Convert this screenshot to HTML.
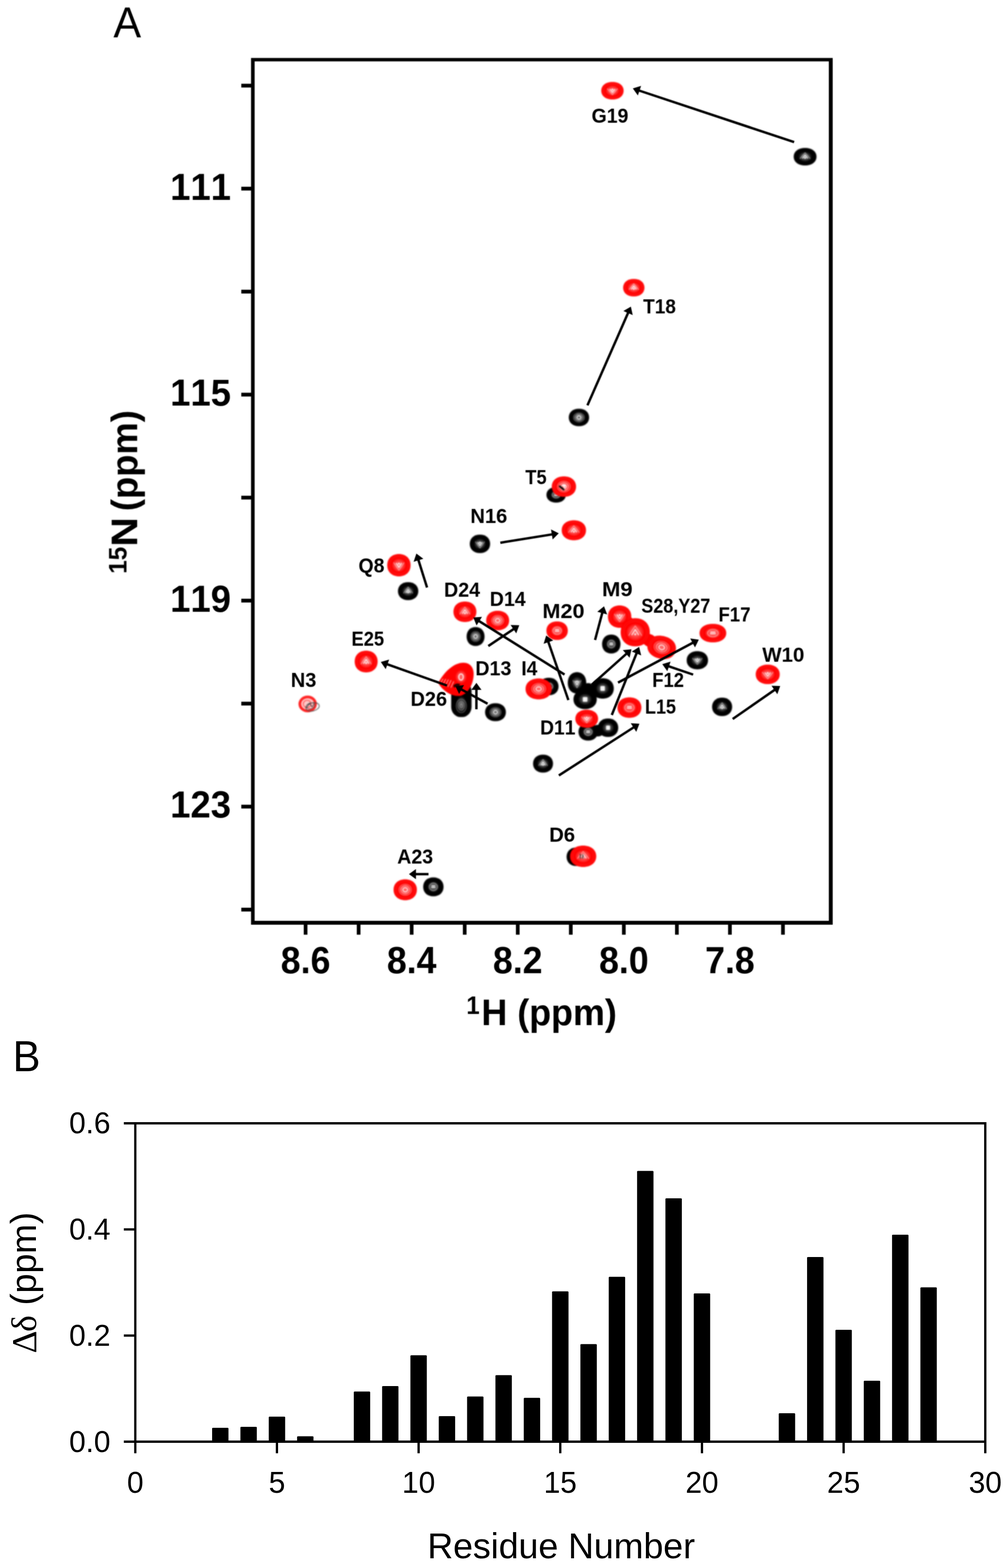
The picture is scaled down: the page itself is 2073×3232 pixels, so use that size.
<!DOCTYPE html>
<html lang="en"><head><meta charset="utf-8"><title>Figure</title>
<style>
html,body{margin:0;padding:0;background:#fff}
body{width:2073px;height:3232px;overflow:hidden}
svg{display:block}
text{font-family:"Liberation Sans",sans-serif;fill:#000;font-kerning:none}
text[font-weight="400"]{font-weight:400}
.pk{filter:blur(0.8px)}
</style></head>
<body>
<svg width="2073" height="3232" viewBox="0 0 2073 3232">
<defs>
<filter id="soft" x="0" y="0" width="2073" height="2160" filterUnits="userSpaceOnUse" color-interpolation-filters="sRGB"><feGaussianBlur stdDeviation="0.9" result="b"/><feComposite in="SourceGraphic" in2="b" operator="arithmetic" k1="0" k2="0.45" k3="0.55" k4="0"/></filter>
<radialGradient id="gr"><stop offset="0" stop-color="#fff" stop-opacity="0.42"/><stop offset="0.45" stop-color="#fff" stop-opacity="0.3"/><stop offset="0.8" stop-color="#fff" stop-opacity="0.14"/><stop offset="1" stop-color="#fff" stop-opacity="0"/></radialGradient>
<radialGradient id="gk"><stop offset="0" stop-color="#fff" stop-opacity="0.5"/><stop offset="0.45" stop-color="#fff" stop-opacity="0.3"/><stop offset="0.8" stop-color="#fff" stop-opacity="0.12"/><stop offset="1" stop-color="#fff" stop-opacity="0"/></radialGradient>
</defs>
<rect width="2073" height="3232" fill="#fff"/>
<g class="pa" filter="url(#soft)">
<g stroke="#000" stroke-width="7.4" fill="none" stroke-linecap="butt">
<path d="M517.3,119.6 H1715.9 V1906 H517.3 Z M524.7,126.6 V1898 H1707.9 V126.6 Z" fill="#000" fill-rule="evenodd" stroke="none"/>
<line x1="497.2" y1="176.5" x2="521.0" y2="176.5" stroke-width="7.8"/>
<line x1="497.2" y1="388.8" x2="521.0" y2="388.8" stroke-width="7.8"/>
<line x1="497.2" y1="601.1" x2="521.0" y2="601.1" stroke-width="7.8"/>
<line x1="497.2" y1="813.4" x2="521.0" y2="813.4" stroke-width="7.8"/>
<line x1="497.2" y1="1025.7" x2="521.0" y2="1025.7" stroke-width="7.8"/>
<line x1="497.2" y1="1238.0" x2="521.0" y2="1238.0" stroke-width="7.8"/>
<line x1="497.2" y1="1450.3" x2="521.0" y2="1450.3" stroke-width="7.8"/>
<line x1="497.2" y1="1662.6" x2="521.0" y2="1662.6" stroke-width="7.8"/>
<line x1="497.2" y1="1874.9" x2="521.0" y2="1874.9" stroke-width="7.8"/>
<line x1="629.7" y1="1902.0" x2="629.7" y2="1926.6" stroke-width="7.6"/>
<line x1="739.0" y1="1902.0" x2="739.0" y2="1926.6" stroke-width="7.6"/>
<line x1="848.3" y1="1902.0" x2="848.3" y2="1926.6" stroke-width="7.6"/>
<line x1="957.6" y1="1902.0" x2="957.6" y2="1926.6" stroke-width="7.6"/>
<line x1="1066.9" y1="1902.0" x2="1066.9" y2="1926.6" stroke-width="7.6"/>
<line x1="1176.2" y1="1902.0" x2="1176.2" y2="1926.6" stroke-width="7.6"/>
<line x1="1285.5" y1="1902.0" x2="1285.5" y2="1926.6" stroke-width="7.6"/>
<line x1="1394.8" y1="1902.0" x2="1394.8" y2="1926.6" stroke-width="7.6"/>
<line x1="1504.1" y1="1902.0" x2="1504.1" y2="1926.6" stroke-width="7.6"/>
<line x1="1613.4" y1="1902.0" x2="1613.4" y2="1926.6" stroke-width="7.6"/>
</g>
<g class="pk">
<ellipse cx="1212" cy="1422" rx="14" ry="14" fill="#000"/>
<ellipse cx="1232" cy="1506" rx="13" ry="12" fill="#000"/>
<g>
<path d="M1682.5,323.0 C1682.5,333.8 1673.1,341.0 1659.0,341.0 C1644.9,341.0 1635.5,333.8 1635.5,323.0 C1635.5,312.2 1644.9,305.0 1659.0,305.0 C1673.1,305.0 1682.5,312.2 1682.5,323.0Z" fill="#000"/>
<ellipse cx="1659" cy="323" rx="14.1" ry="10.8" fill="url(#gk)"/>
<path d="M1653.4,326.6 L1659.0,319.4 L1664.6,326.6" fill="none" stroke="#fff" stroke-width="2" opacity="0.95" stroke-linejoin="round"/>
<path d="M1648.3,327.3 L1659.0,314.7 L1669.7,327.3" fill="none" stroke="#fff" stroke-width="1.4" opacity="0.6" stroke-linejoin="round"/>
<circle cx="1659.0" cy="325.5" r="2" fill="#fff" opacity="0.95"/>
</g>
<g>
<path d="M1214.0,860.5 C1214.0,871.3 1205.6,878.5 1193.0,878.5 C1180.4,878.5 1172.0,871.3 1172.0,860.5 C1172.0,849.7 1180.4,842.5 1193.0,842.5 C1205.6,842.5 1214.0,849.7 1214.0,860.5Z" fill="#000"/>
<ellipse cx="1193" cy="860.5" rx="12.6" ry="10.8" fill="url(#gk)"/>
<ellipse cx="1193.0" cy="860.5" rx="4.2" ry="3.6" fill="none" stroke="#fff" stroke-width="2" opacity="0.95"/>
<ellipse cx="1193.0" cy="860.5" rx="8.0" ry="6.8" fill="none" stroke="#fff" stroke-width="1.4" opacity="0.6"/>
<ellipse cx="1193.0" cy="860.5" rx="11.3" ry="9.7" fill="none" stroke="#fff" stroke-width="1.2" opacity="0.4"/>
</g>
<g>
<path d="M1166.0,1020.0 C1166.0,1029.6 1158.0,1036.0 1146.0,1036.0 C1134.0,1036.0 1126.0,1029.6 1126.0,1020.0 C1126.0,1010.4 1134.0,1004.0 1146.0,1004.0 C1158.0,1004.0 1166.0,1010.4 1166.0,1020.0Z" fill="#000"/>
<ellipse cx="1146" cy="1020" rx="12.0" ry="9.6" fill="url(#gk)"/>
<path d="M1142.0,1017.8 h8.0 M1141.6,1021.2 h8.8" fill="none" stroke="#fff" stroke-width="2" opacity="0.95"/>
<ellipse cx="1146.0" cy="1020.0" rx="8.0" ry="6.4" fill="none" stroke="#fff" stroke-width="1.4" opacity="0.6"/>
</g>
<g>
<path d="M1010.0,1121.0 C1010.0,1132.4 1001.6,1140.0 989.0,1140.0 C976.4,1140.0 968.0,1132.4 968.0,1121.0 C968.0,1109.6 976.4,1102.0 989.0,1102.0 C1001.6,1102.0 1010.0,1109.6 1010.0,1121.0Z" fill="#000"/>
<ellipse cx="989" cy="1121" rx="12.6" ry="11.4" fill="url(#gk)"/>
<path d="M984.0,1117.2 L989.0,1124.8 L994.0,1117.2" fill="none" stroke="#fff" stroke-width="2" opacity="0.95" stroke-linejoin="round"/>
<path d="M979.4,1116.4 L989.0,1129.7 L998.6,1116.4" fill="none" stroke="#fff" stroke-width="1.4" opacity="0.6" stroke-linejoin="round"/>
<circle cx="989.0" cy="1118.3" r="2" fill="#fff" opacity="0.95"/>
</g>
<g>
<path d="M862.0,1218.5 C862.0,1229.6 853.6,1237.0 841.0,1237.0 C828.4,1237.0 820.0,1229.6 820.0,1218.5 C820.0,1207.4 828.4,1200.0 841.0,1200.0 C853.6,1200.0 862.0,1207.4 862.0,1218.5Z" fill="#000"/>
<ellipse cx="841" cy="1218.5" rx="12.6" ry="11.1" fill="url(#gk)"/>
<path d="M836.0,1222.2 L841.0,1214.8 L846.0,1222.2" fill="none" stroke="#fff" stroke-width="2" opacity="0.95" stroke-linejoin="round"/>
<path d="M831.4,1222.9 L841.0,1210.0 L850.6,1222.9" fill="none" stroke="#fff" stroke-width="1.4" opacity="0.6" stroke-linejoin="round"/>
<circle cx="841.0" cy="1221.1" r="2" fill="#fff" opacity="0.95"/>
</g>
<g>
<path d="M998.5,1312.0 C998.5,1323.7 991.1,1331.5 980.0,1331.5 C968.9,1331.5 961.5,1323.7 961.5,1312.0 C961.5,1300.3 968.9,1292.5 980.0,1292.5 C991.1,1292.5 998.5,1300.3 998.5,1312.0Z" fill="#000"/>
<ellipse cx="980" cy="1312" rx="11.1" ry="11.7" fill="url(#gk)"/>
<ellipse cx="980.0" cy="1312.0" rx="3.7" ry="3.9" fill="none" stroke="#fff" stroke-width="2" opacity="0.95"/>
<ellipse cx="980.0" cy="1312.0" rx="7.0" ry="7.4" fill="none" stroke="#fff" stroke-width="1.4" opacity="0.6"/>
<ellipse cx="980.0" cy="1312.0" rx="10.0" ry="10.5" fill="none" stroke="#fff" stroke-width="1.2" opacity="0.4"/>
</g>
<g>
<path d="M1278.6,1327.6 C1278.6,1339.3 1271.0,1347.1 1259.6,1347.1 C1248.2,1347.1 1240.6,1339.3 1240.6,1327.6 C1240.6,1315.9 1248.2,1308.1 1259.6,1308.1 C1271.0,1308.1 1278.6,1315.9 1278.6,1327.6Z" fill="#000"/>
<ellipse cx="1259.6" cy="1327.6" rx="11.4" ry="11.7" fill="url(#gk)"/>
<path d="M1255.8,1325.4 h7.6 M1255.4,1328.8 h8.4" fill="none" stroke="#fff" stroke-width="2" opacity="0.95"/>
<ellipse cx="1259.6" cy="1327.6" rx="7.6" ry="7.8" fill="none" stroke="#fff" stroke-width="1.4" opacity="0.6"/>
</g>
<g>
<path d="M1459.0,1361.0 C1459.0,1372.2 1450.2,1379.7 1437.0,1379.7 C1423.8,1379.7 1415.0,1372.2 1415.0,1361.0 C1415.0,1349.8 1423.8,1342.3 1437.0,1342.3 C1450.2,1342.3 1459.0,1349.8 1459.0,1361.0Z" fill="#000"/>
<ellipse cx="1437" cy="1361" rx="13.2" ry="11.2" fill="url(#gk)"/>
<path d="M1431.7,1357.3 L1437.0,1364.7 L1442.3,1357.3" fill="none" stroke="#fff" stroke-width="2" opacity="0.95" stroke-linejoin="round"/>
<path d="M1427.0,1356.5 L1437.0,1369.6 L1447.0,1356.5" fill="none" stroke="#fff" stroke-width="1.4" opacity="0.6" stroke-linejoin="round"/>
<circle cx="1437.0" cy="1358.4" r="2" fill="#fff" opacity="0.95"/>
</g>
<g>
<path d="M1508.7,1457.0 C1508.7,1468.4 1500.4,1476.0 1488.0,1476.0 C1475.6,1476.0 1467.3,1468.4 1467.3,1457.0 C1467.3,1445.6 1475.6,1438.0 1488.0,1438.0 C1500.4,1438.0 1508.7,1445.6 1508.7,1457.0Z" fill="#000"/>
<ellipse cx="1488" cy="1457" rx="12.4" ry="11.4" fill="url(#gk)"/>
<path d="M1483.0,1460.8 L1488.0,1453.2 L1493.0,1460.8" fill="none" stroke="#fff" stroke-width="2" opacity="0.95" stroke-linejoin="round"/>
<path d="M1478.6,1461.6 L1488.0,1448.3 L1497.4,1461.6" fill="none" stroke="#fff" stroke-width="1.4" opacity="0.6" stroke-linejoin="round"/>
<circle cx="1488.0" cy="1459.7" r="2" fill="#fff" opacity="0.95"/>
</g>
<g>
<path d="M1042.5,1468.0 C1042.5,1479.1 1033.9,1486.5 1021.0,1486.5 C1008.1,1486.5 999.5,1479.1 999.5,1468.0 C999.5,1456.9 1008.1,1449.5 1021.0,1449.5 C1033.9,1449.5 1042.5,1456.9 1042.5,1468.0Z" fill="#000"/>
<ellipse cx="1021" cy="1468" rx="12.9" ry="11.1" fill="url(#gk)"/>
<ellipse cx="1021.0" cy="1468.0" rx="4.3" ry="3.7" fill="none" stroke="#fff" stroke-width="2" opacity="0.95"/>
<ellipse cx="1021.0" cy="1468.0" rx="8.2" ry="7.0" fill="none" stroke="#fff" stroke-width="1.4" opacity="0.6"/>
<ellipse cx="1021.0" cy="1468.0" rx="11.6" ry="10.0" fill="none" stroke="#fff" stroke-width="1.2" opacity="0.4"/>
</g>
<g>
<path d="M1151.0,1415.0 C1151.0,1425.8 1143.0,1433.0 1131.0,1433.0 C1119.0,1433.0 1111.0,1425.8 1111.0,1415.0 C1111.0,1404.2 1119.0,1397.0 1131.0,1397.0 C1143.0,1397.0 1151.0,1404.2 1151.0,1415.0Z" fill="#000"/>
<ellipse cx="1131" cy="1415" rx="12.0" ry="10.8" fill="url(#gk)"/>
<path d="M1127.0,1412.8 h8.0 M1126.6,1416.2 h8.8" fill="none" stroke="#fff" stroke-width="2" opacity="0.95"/>
<ellipse cx="1131.0" cy="1415.0" rx="8.0" ry="7.2" fill="none" stroke="#fff" stroke-width="1.4" opacity="0.6"/>
</g>
<g>
<path d="M1208.0,1407.5 C1208.0,1420.7 1200.4,1429.5 1189.0,1429.5 C1177.6,1429.5 1170.0,1420.7 1170.0,1407.5 C1170.0,1394.3 1177.6,1385.5 1189.0,1385.5 C1200.4,1385.5 1208.0,1394.3 1208.0,1407.5Z" fill="#000"/>
<ellipse cx="1189" cy="1407.5" rx="11.4" ry="13.2" fill="url(#gk)"/>
<path d="M1184.4,1403.1 L1189.0,1411.9 L1193.6,1403.1" fill="none" stroke="#fff" stroke-width="2" opacity="0.95" stroke-linejoin="round"/>
<path d="M1180.3,1402.2 L1189.0,1417.6 L1197.7,1402.2" fill="none" stroke="#fff" stroke-width="1.4" opacity="0.6" stroke-linejoin="round"/>
<circle cx="1189.0" cy="1404.4" r="2" fill="#fff" opacity="0.95"/>
</g>
<g>
<path d="M1229.7,1441.6 C1229.7,1453.6 1220.1,1461.6 1205.7,1461.6 C1191.3,1461.6 1181.7,1453.6 1181.7,1441.6 C1181.7,1429.6 1191.3,1421.6 1205.7,1421.6 C1220.1,1421.6 1229.7,1429.6 1229.7,1441.6Z" fill="#000"/>
<ellipse cx="1205.7" cy="1441.6" rx="14.4" ry="12.0" fill="url(#gk)"/>
<rect x="1200.9" y="1436.8" width="9.6" height="9.6" rx="1.5" fill="#fff" opacity="0.95"/>
</g>
<g>
<path d="M1264.8,1419.0 C1264.8,1431.6 1255.6,1440.0 1241.8,1440.0 C1228.0,1440.0 1218.8,1431.6 1218.8,1419.0 C1218.8,1406.4 1228.0,1398.0 1241.8,1398.0 C1255.6,1398.0 1264.8,1406.4 1264.8,1419.0Z" fill="#000"/>
<ellipse cx="1241.8" cy="1419" rx="13.8" ry="12.6" fill="url(#gk)"/>
<rect x="1237.2" y="1414.0" width="9.2" height="10.1" rx="1.5" fill="#fff" opacity="0.95"/>
</g>
<g>
<path d="M1232.0,1508.6 C1232.0,1519.4 1224.0,1526.6 1212.0,1526.6 C1200.0,1526.6 1192.0,1519.4 1192.0,1508.6 C1192.0,1497.8 1200.0,1490.6 1212.0,1490.6 C1224.0,1490.6 1232.0,1497.8 1232.0,1508.6Z" fill="#000"/>
<ellipse cx="1212" cy="1508.6" rx="12.0" ry="10.8" fill="url(#gk)"/>
<path d="M1208.0,1506.4 h8.0 M1207.6,1509.8 h8.8" fill="none" stroke="#fff" stroke-width="2" opacity="0.95"/>
<ellipse cx="1212.0" cy="1508.6" rx="8.0" ry="7.2" fill="none" stroke="#fff" stroke-width="1.4" opacity="0.6"/>
</g>
<g>
<path d="M1274.0,1500.0 C1274.0,1511.4 1265.6,1519.0 1253.0,1519.0 C1240.4,1519.0 1232.0,1511.4 1232.0,1500.0 C1232.0,1488.6 1240.4,1481.0 1253.0,1481.0 C1265.6,1481.0 1274.0,1488.6 1274.0,1500.0Z" fill="#000"/>
<ellipse cx="1253" cy="1500" rx="12.6" ry="11.4" fill="url(#gk)"/>
<rect x="1248.8" y="1495.4" width="8.4" height="9.1" rx="1.5" fill="#fff" opacity="0.95"/>
</g>
<g>
<path d="M1139.6,1574.0 C1139.6,1585.1 1131.4,1592.5 1119.0,1592.5 C1106.6,1592.5 1098.4,1585.1 1098.4,1574.0 C1098.4,1562.9 1106.6,1555.5 1119.0,1555.5 C1131.4,1555.5 1139.6,1562.9 1139.6,1574.0Z" fill="#000"/>
<ellipse cx="1119" cy="1574" rx="12.4" ry="11.1" fill="url(#gk)"/>
<path d="M1114.1,1577.7 L1119.0,1570.3 L1123.9,1577.7" fill="none" stroke="#fff" stroke-width="2" opacity="0.95" stroke-linejoin="round"/>
<path d="M1109.6,1578.4 L1119.0,1565.5 L1128.4,1578.4" fill="none" stroke="#fff" stroke-width="1.4" opacity="0.6" stroke-linejoin="round"/>
<circle cx="1119.0" cy="1576.6" r="2" fill="#fff" opacity="0.95"/>
</g>
<g>
<path d="M1207.5,1766.0 C1207.5,1777.4 1199.5,1785.0 1187.5,1785.0 C1175.5,1785.0 1167.5,1777.4 1167.5,1766.0 C1167.5,1754.6 1175.5,1747.0 1187.5,1747.0 C1199.5,1747.0 1207.5,1754.6 1207.5,1766.0Z" fill="#000"/>
<ellipse cx="1187.5" cy="1766" rx="12.0" ry="11.4" fill="url(#gk)"/>
<ellipse cx="1187.5" cy="1766.0" rx="4.0" ry="3.8" fill="none" stroke="#fff" stroke-width="2" opacity="0.95"/>
<ellipse cx="1187.5" cy="1766.0" rx="7.6" ry="7.2" fill="none" stroke="#fff" stroke-width="1.4" opacity="0.6"/>
<ellipse cx="1187.5" cy="1766.0" rx="10.8" ry="10.3" fill="none" stroke="#fff" stroke-width="1.2" opacity="0.4"/>
</g>
<g>
<path d="M914.0,1828.0 C914.0,1839.7 905.6,1847.5 893.0,1847.5 C880.4,1847.5 872.0,1839.7 872.0,1828.0 C872.0,1816.3 880.4,1808.5 893.0,1808.5 C905.6,1808.5 914.0,1816.3 914.0,1828.0Z" fill="#000"/>
<ellipse cx="893" cy="1828" rx="12.6" ry="11.7" fill="url(#gk)"/>
<path d="M888.8,1825.8 h8.4 M888.4,1829.2 h9.2" fill="none" stroke="#fff" stroke-width="2" opacity="0.95"/>
<ellipse cx="893.0" cy="1828.0" rx="8.4" ry="7.8" fill="none" stroke="#fff" stroke-width="1.4" opacity="0.6"/>
</g>
<rect x="929.7" y="1404" width="42" height="74" rx="19" ry="21" fill="#000"/>
<ellipse cx="950.6" cy="1452" rx="11" ry="17" fill="url(#gk)"/>
<ellipse cx="950.6" cy="1455" rx="10.5" ry="14" fill="none" stroke="#aaa" stroke-width="1.1" opacity="0.7"/>
<ellipse cx="950.6" cy="1455" rx="6.8" ry="9" fill="none" stroke="#aaa" stroke-width="1.1" opacity="0.7"/>
<ellipse cx="950.6" cy="1455" rx="3.0" ry="4" fill="none" stroke="#aaa" stroke-width="1.1" opacity="0.7"/>
<path d="M903,1408 C915,1385 935,1366 955,1366 C970,1366 977,1378 976,1392 C975,1410 966,1428 950,1434 C935,1437 915,1428 903,1408 Z" fill="#f00"/>
<ellipse cx="950" cy="1395" rx="12" ry="14" fill="url(#gr)"/>
<ellipse cx="950" cy="1395.5" rx="4.6" ry="6.4" fill="none" stroke="#fff" stroke-width="2.2" opacity="0.95"/>
<path d="M907.5,1409 l5.5,-10 M912.5,1411.5 l6,-12 M917.5,1414 l6.5,-13.5 M923,1416 l6.5,-14 M929,1417.5 l6,-13" fill="none" stroke="#fff" stroke-width="1.5" opacity="0.75"/>
<path d="M934,1413 q6,-6 14,-3 l-2,5 q-7,-1 -10,3 z" fill="#000" opacity="0.85"/>
<ellipse cx="1292" cy="1285" rx="20" ry="15" fill="#f00" transform="rotate(45 1292 1285)"/>
<ellipse cx="1338" cy="1320" rx="16" ry="13" fill="#f00" transform="rotate(30 1338 1320)"/>
<g>
<path d="M1285.0,187.0 C1285.0,197.8 1275.8,205.0 1262.0,205.0 C1248.2,205.0 1239.0,197.8 1239.0,187.0 C1239.0,176.2 1248.2,169.0 1262.0,169.0 C1275.8,169.0 1285.0,176.2 1285.0,187.0Z" fill="#f00"/>
<ellipse cx="1262" cy="187" rx="14.3" ry="11.2" fill="url(#gr)"/>
<path d="M1282.2,187.0 C1282.2,196.5 1274.1,202.8 1262.0,202.8 C1249.9,202.8 1241.8,196.5 1241.8,187.0 C1241.8,177.5 1249.9,171.2 1262.0,171.2 C1274.1,171.2 1282.2,177.5 1282.2,187.0Z" fill="none" stroke="#fff" stroke-width="0.9" opacity="0.14"/>
<path d="M1279.5,187.0 C1279.5,195.2 1272.5,200.7 1262.0,200.7 C1251.5,200.7 1244.5,195.2 1244.5,187.0 C1244.5,178.8 1251.5,173.3 1262.0,173.3 C1272.5,173.3 1279.5,178.8 1279.5,187.0Z" fill="none" stroke="#fff" stroke-width="0.9" opacity="0.14"/>
<path d="M1256.5,183.4 L1262.0,190.6 L1267.5,183.4" fill="none" stroke="#fff" stroke-width="2" opacity="0.95" stroke-linejoin="round"/>
<path d="M1251.5,182.7 L1262.0,195.3 L1272.5,182.7" fill="none" stroke="#fff" stroke-width="1.4" opacity="0.6" stroke-linejoin="round"/>
<circle cx="1262.0" cy="184.5" r="2" fill="#fff" opacity="0.95"/>
</g>
<g>
<path d="M1328.0,593.0 C1328.0,603.8 1319.2,611.0 1306.0,611.0 C1292.8,611.0 1284.0,603.8 1284.0,593.0 C1284.0,582.2 1292.8,575.0 1306.0,575.0 C1319.2,575.0 1328.0,582.2 1328.0,593.0Z" fill="#f00"/>
<ellipse cx="1306" cy="593" rx="13.6" ry="11.2" fill="url(#gr)"/>
<path d="M1325.4,593.0 C1325.4,602.5 1317.6,608.8 1306.0,608.8 C1294.4,608.8 1286.6,602.5 1286.6,593.0 C1286.6,583.5 1294.4,577.2 1306.0,577.2 C1317.6,577.2 1325.4,583.5 1325.4,593.0Z" fill="none" stroke="#fff" stroke-width="0.9" opacity="0.14"/>
<path d="M1322.7,593.0 C1322.7,601.2 1316.0,606.7 1306.0,606.7 C1296.0,606.7 1289.3,601.2 1289.3,593.0 C1289.3,584.8 1296.0,579.3 1306.0,579.3 C1316.0,579.3 1322.7,584.8 1322.7,593.0Z" fill="none" stroke="#fff" stroke-width="0.9" opacity="0.14"/>
<path d="M1300.7,596.6 L1306.0,589.4 L1311.3,596.6" fill="none" stroke="#fff" stroke-width="2" opacity="0.95" stroke-linejoin="round"/>
<path d="M1296.0,597.3 L1306.0,584.7 L1316.0,597.3" fill="none" stroke="#fff" stroke-width="1.4" opacity="0.6" stroke-linejoin="round"/>
<circle cx="1306.0" cy="595.5" r="2" fill="#fff" opacity="0.95"/>
</g>
<g>
<path d="M1187.0,1003.0 C1187.0,1015.6 1177.0,1024.0 1162.0,1024.0 C1147.0,1024.0 1137.0,1015.6 1137.0,1003.0 C1137.0,990.4 1147.0,982.0 1162.0,982.0 C1177.0,982.0 1187.0,990.4 1187.0,1003.0Z" fill="#f00"/>
<ellipse cx="1162" cy="1003" rx="15.5" ry="13.0" fill="url(#gr)"/>
<path d="M1184.0,1003.0 C1184.0,1014.1 1175.2,1021.5 1162.0,1021.5 C1148.8,1021.5 1140.0,1014.1 1140.0,1003.0 C1140.0,991.9 1148.8,984.5 1162.0,984.5 C1175.2,984.5 1184.0,991.9 1184.0,1003.0Z" fill="none" stroke="#fff" stroke-width="0.9" opacity="0.14"/>
<path d="M1181.0,1003.0 C1181.0,1012.6 1173.4,1019.0 1162.0,1019.0 C1150.6,1019.0 1143.0,1012.6 1143.0,1003.0 C1143.0,993.4 1150.6,987.0 1162.0,987.0 C1173.4,987.0 1181.0,993.4 1181.0,1003.0Z" fill="none" stroke="#fff" stroke-width="0.9" opacity="0.14"/>
<ellipse cx="1162.0" cy="1003.0" rx="5.0" ry="4.2" fill="none" stroke="#fff" stroke-width="2" opacity="0.95"/>
<ellipse cx="1162.0" cy="1003.0" rx="9.5" ry="8.0" fill="none" stroke="#fff" stroke-width="1.4" opacity="0.6"/>
<ellipse cx="1162.0" cy="1003.0" rx="13.5" ry="11.3" fill="none" stroke="#fff" stroke-width="1.2" opacity="0.4"/>
</g>
<g>
<path d="M1207.5,1093.0 C1207.5,1105.3 1197.5,1113.5 1182.5,1113.5 C1167.5,1113.5 1157.5,1105.3 1157.5,1093.0 C1157.5,1080.7 1167.5,1072.5 1182.5,1072.5 C1197.5,1072.5 1207.5,1080.7 1207.5,1093.0Z" fill="#f00"/>
<ellipse cx="1182.5" cy="1093" rx="15.5" ry="12.7" fill="url(#gr)"/>
<path d="M1204.5,1093.0 C1204.5,1103.8 1195.7,1111.0 1182.5,1111.0 C1169.3,1111.0 1160.5,1103.8 1160.5,1093.0 C1160.5,1082.2 1169.3,1075.0 1182.5,1075.0 C1195.7,1075.0 1204.5,1082.2 1204.5,1093.0Z" fill="none" stroke="#fff" stroke-width="0.9" opacity="0.14"/>
<path d="M1201.5,1093.0 C1201.5,1102.3 1193.9,1108.6 1182.5,1108.6 C1171.1,1108.6 1163.5,1102.3 1163.5,1093.0 C1163.5,1083.7 1171.1,1077.4 1182.5,1077.4 C1193.9,1077.4 1201.5,1083.7 1201.5,1093.0Z" fill="none" stroke="#fff" stroke-width="0.9" opacity="0.14"/>
<path d="M1176.5,1097.1 L1182.5,1088.9 L1188.5,1097.1" fill="none" stroke="#fff" stroke-width="2" opacity="0.95" stroke-linejoin="round"/>
<path d="M1171.1,1097.9 L1182.5,1083.6 L1193.9,1097.9" fill="none" stroke="#fff" stroke-width="1.4" opacity="0.6" stroke-linejoin="round"/>
<circle cx="1182.5" cy="1095.9" r="2" fill="#fff" opacity="0.95"/>
</g>
<g>
<path d="M846.0,1165.0 C846.0,1178.8 836.4,1188.0 822.0,1188.0 C807.6,1188.0 798.0,1178.8 798.0,1165.0 C798.0,1151.2 807.6,1142.0 822.0,1142.0 C836.4,1142.0 846.0,1151.2 846.0,1165.0Z" fill="#f00"/>
<ellipse cx="822" cy="1165" rx="14.9" ry="14.3" fill="url(#gr)"/>
<path d="M843.1,1165.0 C843.1,1177.1 834.7,1185.2 822.0,1185.2 C809.3,1185.2 800.9,1177.1 800.9,1165.0 C800.9,1152.9 809.3,1144.8 822.0,1144.8 C834.7,1144.8 843.1,1152.9 843.1,1165.0Z" fill="none" stroke="#fff" stroke-width="0.9" opacity="0.14"/>
<path d="M840.2,1165.0 C840.2,1175.5 832.9,1182.5 822.0,1182.5 C811.1,1182.5 803.8,1175.5 803.8,1165.0 C803.8,1154.5 811.1,1147.5 822.0,1147.5 C832.9,1147.5 840.2,1154.5 840.2,1165.0Z" fill="none" stroke="#fff" stroke-width="0.9" opacity="0.14"/>
<path d="M816.2,1160.4 L822.0,1169.6 L827.8,1160.4" fill="none" stroke="#fff" stroke-width="2" opacity="0.95" stroke-linejoin="round"/>
<path d="M811.1,1159.5 L822.0,1175.6 L832.9,1159.5" fill="none" stroke="#fff" stroke-width="1.4" opacity="0.6" stroke-linejoin="round"/>
<circle cx="822.0" cy="1161.8" r="2" fill="#fff" opacity="0.95"/>
</g>
<g>
<path d="M981.6,1261.0 C981.6,1273.6 972.2,1282.0 958.0,1282.0 C943.8,1282.0 934.4,1273.6 934.4,1261.0 C934.4,1248.4 943.8,1240.0 958.0,1240.0 C972.2,1240.0 981.6,1248.4 981.6,1261.0Z" fill="#f00"/>
<ellipse cx="958" cy="1261" rx="14.6" ry="13.0" fill="url(#gr)"/>
<path d="M978.8,1261.0 C978.8,1272.1 970.5,1279.5 958.0,1279.5 C945.5,1279.5 937.2,1272.1 937.2,1261.0 C937.2,1249.9 945.5,1242.5 958.0,1242.5 C970.5,1242.5 978.8,1249.9 978.8,1261.0Z" fill="none" stroke="#fff" stroke-width="0.9" opacity="0.14"/>
<path d="M975.9,1261.0 C975.9,1270.6 968.8,1277.0 958.0,1277.0 C947.2,1277.0 940.1,1270.6 940.1,1261.0 C940.1,1251.4 947.2,1245.0 958.0,1245.0 C968.8,1245.0 975.9,1251.4 975.9,1261.0Z" fill="none" stroke="#fff" stroke-width="0.9" opacity="0.14"/>
<path d="M952.3,1265.2 L958.0,1256.8 L963.7,1265.2" fill="none" stroke="#fff" stroke-width="2" opacity="0.95" stroke-linejoin="round"/>
<path d="M947.2,1266.0 L958.0,1251.3 L968.8,1266.0" fill="none" stroke="#fff" stroke-width="1.4" opacity="0.6" stroke-linejoin="round"/>
<circle cx="958.0" cy="1263.9" r="2" fill="#fff" opacity="0.95"/>
</g>
<g>
<path d="M1049.1,1279.0 C1049.1,1291.0 1039.7,1299.0 1025.5,1299.0 C1011.3,1299.0 1001.9,1291.0 1001.9,1279.0 C1001.9,1267.0 1011.3,1259.0 1025.5,1259.0 C1039.7,1259.0 1049.1,1267.0 1049.1,1279.0Z" fill="#f00"/>
<ellipse cx="1025.5" cy="1279" rx="14.6" ry="12.4" fill="url(#gr)"/>
<path d="M1046.3,1279.0 C1046.3,1289.6 1038.0,1296.6 1025.5,1296.6 C1013.0,1296.6 1004.7,1289.6 1004.7,1279.0 C1004.7,1268.4 1013.0,1261.4 1025.5,1261.4 C1038.0,1261.4 1046.3,1268.4 1046.3,1279.0Z" fill="none" stroke="#fff" stroke-width="0.9" opacity="0.14"/>
<path d="M1043.4,1279.0 C1043.4,1288.1 1036.3,1294.2 1025.5,1294.2 C1014.7,1294.2 1007.6,1288.1 1007.6,1279.0 C1007.6,1269.9 1014.7,1263.8 1025.5,1263.8 C1036.3,1263.8 1043.4,1269.9 1043.4,1279.0Z" fill="none" stroke="#fff" stroke-width="0.9" opacity="0.14"/>
<ellipse cx="1025.5" cy="1279.0" rx="4.7" ry="4.0" fill="none" stroke="#fff" stroke-width="2" opacity="0.95"/>
<ellipse cx="1025.5" cy="1279.0" rx="9.0" ry="7.6" fill="none" stroke="#fff" stroke-width="1.4" opacity="0.6"/>
<ellipse cx="1025.5" cy="1279.0" rx="12.7" ry="10.8" fill="none" stroke="#fff" stroke-width="1.2" opacity="0.4"/>
</g>
<g>
<path d="M1170.0,1300.0 C1170.0,1311.4 1161.2,1319.0 1148.0,1319.0 C1134.8,1319.0 1126.0,1311.4 1126.0,1300.0 C1126.0,1288.6 1134.8,1281.0 1148.0,1281.0 C1161.2,1281.0 1170.0,1288.6 1170.0,1300.0Z" fill="#f00"/>
<ellipse cx="1148" cy="1300" rx="13.6" ry="11.8" fill="url(#gr)"/>
<path d="M1167.4,1300.0 C1167.4,1310.0 1159.6,1316.7 1148.0,1316.7 C1136.4,1316.7 1128.6,1310.0 1128.6,1300.0 C1128.6,1290.0 1136.4,1283.3 1148.0,1283.3 C1159.6,1283.3 1167.4,1290.0 1167.4,1300.0Z" fill="none" stroke="#fff" stroke-width="0.9" opacity="0.14"/>
<path d="M1164.7,1300.0 C1164.7,1308.7 1158.0,1314.4 1148.0,1314.4 C1138.0,1314.4 1131.3,1308.7 1131.3,1300.0 C1131.3,1291.3 1138.0,1285.6 1148.0,1285.6 C1158.0,1285.6 1164.7,1291.3 1164.7,1300.0Z" fill="none" stroke="#fff" stroke-width="0.9" opacity="0.14"/>
<path d="M1143.6,1297.8 h8.8 M1143.2,1301.2 h9.7" fill="none" stroke="#fff" stroke-width="2" opacity="0.95"/>
<ellipse cx="1148.0" cy="1300.0" rx="8.8" ry="7.6" fill="none" stroke="#fff" stroke-width="1.4" opacity="0.6"/>
</g>
<g>
<path d="M1300.8,1271.0 C1300.8,1284.8 1291.2,1294.0 1276.8,1294.0 C1262.4,1294.0 1252.8,1284.8 1252.8,1271.0 C1252.8,1257.2 1262.4,1248.0 1276.8,1248.0 C1291.2,1248.0 1300.8,1257.2 1300.8,1271.0Z" fill="#f00"/>
<ellipse cx="1276.8" cy="1271" rx="14.9" ry="14.3" fill="url(#gr)"/>
<path d="M1297.9,1271.0 C1297.9,1283.1 1289.5,1291.2 1276.8,1291.2 C1264.1,1291.2 1255.7,1283.1 1255.7,1271.0 C1255.7,1258.9 1264.1,1250.8 1276.8,1250.8 C1289.5,1250.8 1297.9,1258.9 1297.9,1271.0Z" fill="none" stroke="#fff" stroke-width="0.9" opacity="0.14"/>
<path d="M1295.0,1271.0 C1295.0,1281.5 1287.7,1288.5 1276.8,1288.5 C1265.9,1288.5 1258.6,1281.5 1258.6,1271.0 C1258.6,1260.5 1265.9,1253.5 1276.8,1253.5 C1287.7,1253.5 1295.0,1260.5 1295.0,1271.0Z" fill="none" stroke="#fff" stroke-width="0.9" opacity="0.14"/>
<path d="M1271.0,1266.4 L1276.8,1275.6 L1282.6,1266.4" fill="none" stroke="#fff" stroke-width="2" opacity="0.95" stroke-linejoin="round"/>
<path d="M1265.9,1265.5 L1276.8,1281.6 L1287.7,1265.5" fill="none" stroke="#fff" stroke-width="1.4" opacity="0.6" stroke-linejoin="round"/>
<circle cx="1276.8" cy="1267.8" r="2" fill="#fff" opacity="0.95"/>
</g>
<g>
<path d="M1339.0,1303.3 C1339.0,1320.7 1327.0,1332.3 1309.0,1332.3 C1291.0,1332.3 1279.0,1320.7 1279.0,1303.3 C1279.0,1285.9 1291.0,1274.3 1309.0,1274.3 C1327.0,1274.3 1339.0,1285.9 1339.0,1303.3Z" fill="#f00"/>
<ellipse cx="1309" cy="1303.3" rx="18.6" ry="18.0" fill="url(#gr)"/>
<path d="M1335.4,1303.3 C1335.4,1318.6 1324.8,1328.8 1309.0,1328.8 C1293.2,1328.8 1282.6,1318.6 1282.6,1303.3 C1282.6,1288.0 1293.2,1277.8 1309.0,1277.8 C1324.8,1277.8 1335.4,1288.0 1335.4,1303.3Z" fill="none" stroke="#fff" stroke-width="0.9" opacity="0.14"/>
<path d="M1331.8,1303.3 C1331.8,1316.5 1322.7,1325.3 1309.0,1325.3 C1295.3,1325.3 1286.2,1316.5 1286.2,1303.3 C1286.2,1290.1 1295.3,1281.3 1309.0,1281.3 C1322.7,1281.3 1331.8,1290.1 1331.8,1303.3Z" fill="none" stroke="#fff" stroke-width="0.9" opacity="0.14"/>
<path d="M1301.8,1309.1 L1309.0,1297.5 L1316.2,1309.1" fill="none" stroke="#fff" stroke-width="2" opacity="0.95" stroke-linejoin="round"/>
<path d="M1295.3,1310.3 L1309.0,1290.0 L1322.7,1310.3" fill="none" stroke="#fff" stroke-width="1.4" opacity="0.6" stroke-linejoin="round"/>
<circle cx="1309.0" cy="1307.4" r="2" fill="#fff" opacity="0.95"/>
</g>
<g transform="rotate(15 1363.5 1334.4)">
<path d="M1393.2,1334.4 C1393.2,1348.4 1381.3,1357.8 1363.5,1357.8 C1345.7,1357.8 1333.8,1348.4 1333.8,1334.4 C1333.8,1320.4 1345.7,1311.0 1363.5,1311.0 C1381.3,1311.0 1393.2,1320.4 1393.2,1334.4Z" fill="#f00"/>
<ellipse cx="1363.5" cy="1334.4" rx="18.4" ry="14.5" fill="url(#gr)"/>
<path d="M1389.6,1334.4 C1389.6,1346.8 1379.2,1355.0 1363.5,1355.0 C1347.8,1355.0 1337.4,1346.8 1337.4,1334.4 C1337.4,1322.0 1347.8,1313.8 1363.5,1313.8 C1379.2,1313.8 1389.6,1322.0 1389.6,1334.4Z" fill="none" stroke="#fff" stroke-width="0.9" opacity="0.14"/>
<path d="M1386.1,1334.4 C1386.1,1345.1 1377.0,1352.2 1363.5,1352.2 C1350.0,1352.2 1340.9,1345.1 1340.9,1334.4 C1340.9,1323.7 1350.0,1316.6 1363.5,1316.6 C1377.0,1316.6 1386.1,1323.7 1386.1,1334.4Z" fill="none" stroke="#fff" stroke-width="0.9" opacity="0.14"/>
<ellipse cx="1363.5" cy="1334.4" rx="5.9" ry="4.7" fill="none" stroke="#fff" stroke-width="2" opacity="0.95"/>
<ellipse cx="1363.5" cy="1334.4" rx="11.3" ry="8.9" fill="none" stroke="#fff" stroke-width="1.4" opacity="0.6"/>
<ellipse cx="1363.5" cy="1334.4" rx="16.0" ry="12.6" fill="none" stroke="#fff" stroke-width="1.2" opacity="0.4"/>
</g>
<g>
<path d="M1496.5,1305.0 C1496.5,1316.4 1485.5,1324.0 1469.0,1324.0 C1452.5,1324.0 1441.5,1316.4 1441.5,1305.0 C1441.5,1293.6 1452.5,1286.0 1469.0,1286.0 C1485.5,1286.0 1496.5,1293.6 1496.5,1305.0Z" fill="#f00"/>
<ellipse cx="1469" cy="1305" rx="17.1" ry="11.8" fill="url(#gr)"/>
<path d="M1493.2,1305.0 C1493.2,1315.0 1483.5,1321.7 1469.0,1321.7 C1454.5,1321.7 1444.8,1315.0 1444.8,1305.0 C1444.8,1295.0 1454.5,1288.3 1469.0,1288.3 C1483.5,1288.3 1493.2,1295.0 1493.2,1305.0Z" fill="none" stroke="#fff" stroke-width="0.9" opacity="0.14"/>
<path d="M1489.9,1305.0 C1489.9,1313.7 1481.5,1319.4 1469.0,1319.4 C1456.5,1319.4 1448.1,1313.7 1448.1,1305.0 C1448.1,1296.3 1456.5,1290.6 1469.0,1290.6 C1481.5,1290.6 1489.9,1296.3 1489.9,1305.0Z" fill="none" stroke="#fff" stroke-width="0.9" opacity="0.14"/>
<path d="M1463.5,1302.8 h11.0 M1463.0,1306.2 h12.1" fill="none" stroke="#fff" stroke-width="2" opacity="0.95"/>
<ellipse cx="1469.0" cy="1305.0" rx="11.0" ry="7.6" fill="none" stroke="#fff" stroke-width="1.4" opacity="0.6"/>
</g>
<g>
<path d="M1606.7,1390.0 C1606.7,1402.0 1596.8,1410.0 1582.0,1410.0 C1567.2,1410.0 1557.3,1402.0 1557.3,1390.0 C1557.3,1378.0 1567.2,1370.0 1582.0,1370.0 C1596.8,1370.0 1606.7,1378.0 1606.7,1390.0Z" fill="#f00"/>
<ellipse cx="1582" cy="1390" rx="15.3" ry="12.4" fill="url(#gr)"/>
<path d="M1603.7,1390.0 C1603.7,1400.6 1595.0,1407.6 1582.0,1407.6 C1569.0,1407.6 1560.3,1400.6 1560.3,1390.0 C1560.3,1379.4 1569.0,1372.4 1582.0,1372.4 C1595.0,1372.4 1603.7,1379.4 1603.7,1390.0Z" fill="none" stroke="#fff" stroke-width="0.9" opacity="0.14"/>
<path d="M1600.8,1390.0 C1600.8,1399.1 1593.3,1405.2 1582.0,1405.2 C1570.7,1405.2 1563.2,1399.1 1563.2,1390.0 C1563.2,1380.9 1570.7,1374.8 1582.0,1374.8 C1593.3,1374.8 1600.8,1380.9 1600.8,1390.0Z" fill="none" stroke="#fff" stroke-width="0.9" opacity="0.14"/>
<path d="M1576.1,1386.0 L1582.0,1394.0 L1587.9,1386.0" fill="none" stroke="#fff" stroke-width="2" opacity="0.95" stroke-linejoin="round"/>
<path d="M1570.7,1385.2 L1582.0,1399.2 L1593.3,1385.2" fill="none" stroke="#fff" stroke-width="1.4" opacity="0.6" stroke-linejoin="round"/>
<circle cx="1582.0" cy="1387.2" r="2" fill="#fff" opacity="0.95"/>
</g>
<g>
<path d="M778.1,1363.6 C778.1,1377.0 768.7,1386.0 754.5,1386.0 C740.3,1386.0 730.9,1377.0 730.9,1363.6 C730.9,1350.2 740.3,1341.2 754.5,1341.2 C768.7,1341.2 778.1,1350.2 778.1,1363.6Z" fill="#f00"/>
<ellipse cx="754.5" cy="1363.6" rx="14.6" ry="13.9" fill="url(#gr)"/>
<path d="M775.3,1363.6 C775.3,1375.4 767.0,1383.3 754.5,1383.3 C742.0,1383.3 733.7,1375.4 733.7,1363.6 C733.7,1351.8 742.0,1343.9 754.5,1343.9 C767.0,1343.9 775.3,1351.8 775.3,1363.6Z" fill="none" stroke="#fff" stroke-width="0.9" opacity="0.14"/>
<path d="M772.4,1363.6 C772.4,1373.8 765.3,1380.6 754.5,1380.6 C743.7,1380.6 736.6,1373.8 736.6,1363.6 C736.6,1353.4 743.7,1346.6 754.5,1346.6 C765.3,1346.6 772.4,1353.4 772.4,1363.6Z" fill="none" stroke="#fff" stroke-width="0.9" opacity="0.14"/>
<path d="M748.8,1368.1 L754.5,1359.1 L760.2,1368.1" fill="none" stroke="#fff" stroke-width="2" opacity="0.95" stroke-linejoin="round"/>
<path d="M743.7,1369.0 L754.5,1353.3 L765.3,1369.0" fill="none" stroke="#fff" stroke-width="1.4" opacity="0.6" stroke-linejoin="round"/>
<circle cx="754.5" cy="1366.7" r="2" fill="#fff" opacity="0.95"/>
</g>
<g>
<path d="M1137.0,1420.0 C1137.0,1432.9 1126.2,1441.5 1110.0,1441.5 C1093.8,1441.5 1083.0,1432.9 1083.0,1420.0 C1083.0,1407.1 1093.8,1398.5 1110.0,1398.5 C1126.2,1398.5 1137.0,1407.1 1137.0,1420.0Z" fill="#f00"/>
<ellipse cx="1110" cy="1420" rx="16.7" ry="13.3" fill="url(#gr)"/>
<path d="M1133.8,1420.0 C1133.8,1431.4 1124.3,1438.9 1110.0,1438.9 C1095.7,1438.9 1086.2,1431.4 1086.2,1420.0 C1086.2,1408.6 1095.7,1401.1 1110.0,1401.1 C1124.3,1401.1 1133.8,1408.6 1133.8,1420.0Z" fill="none" stroke="#fff" stroke-width="0.9" opacity="0.14"/>
<path d="M1130.5,1420.0 C1130.5,1429.8 1122.3,1436.3 1110.0,1436.3 C1097.7,1436.3 1089.5,1429.8 1089.5,1420.0 C1089.5,1410.2 1097.7,1403.7 1110.0,1403.7 C1122.3,1403.7 1130.5,1410.2 1130.5,1420.0Z" fill="none" stroke="#fff" stroke-width="0.9" opacity="0.14"/>
<ellipse cx="1110.0" cy="1420.0" rx="5.4" ry="4.3" fill="none" stroke="#fff" stroke-width="2" opacity="0.95"/>
<ellipse cx="1110.0" cy="1420.0" rx="10.3" ry="8.2" fill="none" stroke="#fff" stroke-width="1.4" opacity="0.6"/>
<ellipse cx="1110.0" cy="1420.0" rx="14.6" ry="11.6" fill="none" stroke="#fff" stroke-width="1.2" opacity="0.4"/>
</g>
<g>
<path d="M1321.6,1458.5 C1321.6,1471.1 1311.8,1479.5 1297.0,1479.5 C1282.2,1479.5 1272.4,1471.1 1272.4,1458.5 C1272.4,1445.9 1282.2,1437.5 1297.0,1437.5 C1311.8,1437.5 1321.6,1445.9 1321.6,1458.5Z" fill="#f00"/>
<ellipse cx="1297" cy="1458.5" rx="15.3" ry="13.0" fill="url(#gr)"/>
<path d="M1318.6,1458.5 C1318.6,1469.6 1310.0,1477.0 1297.0,1477.0 C1284.0,1477.0 1275.4,1469.6 1275.4,1458.5 C1275.4,1447.4 1284.0,1440.0 1297.0,1440.0 C1310.0,1440.0 1318.6,1447.4 1318.6,1458.5Z" fill="none" stroke="#fff" stroke-width="0.9" opacity="0.14"/>
<path d="M1315.7,1458.5 C1315.7,1468.1 1308.2,1474.5 1297.0,1474.5 C1285.8,1474.5 1278.3,1468.1 1278.3,1458.5 C1278.3,1448.9 1285.8,1442.5 1297.0,1442.5 C1308.2,1442.5 1315.7,1448.9 1315.7,1458.5Z" fill="none" stroke="#fff" stroke-width="0.9" opacity="0.14"/>
<path d="M1292.1,1456.3 h9.8 M1291.6,1459.7 h10.8" fill="none" stroke="#fff" stroke-width="2" opacity="0.95"/>
<ellipse cx="1297.0" cy="1458.5" rx="9.8" ry="8.4" fill="none" stroke="#fff" stroke-width="1.4" opacity="0.6"/>
</g>
<g>
<path d="M1232.4,1481.5 C1232.4,1492.6 1223.0,1500.0 1209.0,1500.0 C1195.0,1500.0 1185.6,1492.6 1185.6,1481.5 C1185.6,1470.4 1195.0,1463.0 1209.0,1463.0 C1223.0,1463.0 1232.4,1470.4 1232.4,1481.5Z" fill="#f00"/>
<ellipse cx="1209" cy="1481.5" rx="14.5" ry="11.5" fill="url(#gr)"/>
<path d="M1229.6,1481.5 C1229.6,1491.3 1221.4,1497.8 1209.0,1497.8 C1196.6,1497.8 1188.4,1491.3 1188.4,1481.5 C1188.4,1471.7 1196.6,1465.2 1209.0,1465.2 C1221.4,1465.2 1229.6,1471.7 1229.6,1481.5Z" fill="none" stroke="#fff" stroke-width="0.9" opacity="0.14"/>
<path d="M1226.8,1481.5 C1226.8,1489.9 1219.7,1495.6 1209.0,1495.6 C1198.3,1495.6 1191.2,1489.9 1191.2,1481.5 C1191.2,1473.1 1198.3,1467.4 1209.0,1467.4 C1219.7,1467.4 1226.8,1473.1 1226.8,1481.5Z" fill="none" stroke="#fff" stroke-width="0.9" opacity="0.14"/>
<path d="M1203.4,1477.8 L1209.0,1485.2 L1214.6,1477.8" fill="none" stroke="#fff" stroke-width="2" opacity="0.95" stroke-linejoin="round"/>
<path d="M1198.3,1477.1 L1209.0,1490.0 L1219.7,1477.1" fill="none" stroke="#fff" stroke-width="1.4" opacity="0.6" stroke-linejoin="round"/>
<circle cx="1209.0" cy="1478.9" r="2" fill="#fff" opacity="0.95"/>
</g>
<g>
<path d="M1228.6,1765.0 C1228.6,1778.2 1217.8,1787.0 1201.6,1787.0 C1185.4,1787.0 1174.6,1778.2 1174.6,1765.0 C1174.6,1751.8 1185.4,1743.0 1201.6,1743.0 C1217.8,1743.0 1228.6,1751.8 1228.6,1765.0Z" fill="#f00"/>
<ellipse cx="1201.6" cy="1765" rx="16.7" ry="13.6" fill="url(#gr)"/>
<path d="M1225.4,1765.0 C1225.4,1776.6 1215.9,1784.4 1201.6,1784.4 C1187.3,1784.4 1177.8,1776.6 1177.8,1765.0 C1177.8,1753.4 1187.3,1745.6 1201.6,1745.6 C1215.9,1745.6 1225.4,1753.4 1225.4,1765.0Z" fill="none" stroke="#fff" stroke-width="0.9" opacity="0.14"/>
<path d="M1222.1,1765.0 C1222.1,1775.0 1213.9,1781.7 1201.6,1781.7 C1189.3,1781.7 1181.1,1775.0 1181.1,1765.0 C1181.1,1755.0 1189.3,1748.3 1201.6,1748.3 C1213.9,1748.3 1222.1,1755.0 1222.1,1765.0Z" fill="none" stroke="#fff" stroke-width="0.9" opacity="0.14"/>
<path d="M1195.1,1769.4 L1201.6,1760.6 L1208.1,1769.4" fill="none" stroke="#fff" stroke-width="2" opacity="0.95" stroke-linejoin="round"/>
<path d="M1189.3,1770.3 L1201.6,1754.9 L1213.9,1770.3" fill="none" stroke="#fff" stroke-width="1.4" opacity="0.6" stroke-linejoin="round"/>
<circle cx="1201.6" cy="1768.1" r="2" fill="#fff" opacity="0.95"/>
</g>
<g>
<path d="M859.0,1834.0 C859.0,1846.9 849.4,1855.5 835.0,1855.5 C820.6,1855.5 811.0,1846.9 811.0,1834.0 C811.0,1821.1 820.6,1812.5 835.0,1812.5 C849.4,1812.5 859.0,1821.1 859.0,1834.0Z" fill="#f00"/>
<ellipse cx="835" cy="1834" rx="14.9" ry="13.3" fill="url(#gr)"/>
<path d="M856.1,1834.0 C856.1,1845.4 847.7,1852.9 835.0,1852.9 C822.3,1852.9 813.9,1845.4 813.9,1834.0 C813.9,1822.6 822.3,1815.1 835.0,1815.1 C847.7,1815.1 856.1,1822.6 856.1,1834.0Z" fill="none" stroke="#fff" stroke-width="0.9" opacity="0.14"/>
<path d="M853.2,1834.0 C853.2,1843.8 845.9,1850.3 835.0,1850.3 C824.1,1850.3 816.8,1843.8 816.8,1834.0 C816.8,1824.2 824.1,1817.7 835.0,1817.7 C845.9,1817.7 853.2,1824.2 853.2,1834.0Z" fill="none" stroke="#fff" stroke-width="0.9" opacity="0.14"/>
<ellipse cx="835.0" cy="1834.0" rx="4.8" ry="4.3" fill="none" stroke="#fff" stroke-width="2" opacity="0.95"/>
<ellipse cx="835.0" cy="1834.0" rx="9.1" ry="8.2" fill="none" stroke="#fff" stroke-width="1.4" opacity="0.6"/>
<ellipse cx="835.0" cy="1834.0" rx="13.0" ry="11.6" fill="none" stroke="#fff" stroke-width="1.2" opacity="0.4"/>
</g>
<path d="M1153.5,1002.5 l8,6.5" fill="none" stroke="#000" stroke-width="3.6" stroke-linecap="round"/>
<path d="M1158,1000 l8,0 l-3,7 z" fill="#fff" opacity="0.9"/>
<path d="M1196,1760 v10 M1201,1761 v9" fill="none" stroke="#222" stroke-width="2.2" opacity="0.8"/>
<ellipse cx="634" cy="1451" rx="16.2" ry="14.5" fill="#ffc8c8" stroke="#f22" stroke-width="5.5"/>
<ellipse cx="633" cy="1451" rx="8" ry="7.5" fill="none" stroke="#f44" stroke-width="1.6"/>
<ellipse cx="644" cy="1457" rx="14" ry="8.5" fill="none" stroke="#444" stroke-width="1.5" transform="rotate(-12 644 1457)"/>
<ellipse cx="640" cy="1455" rx="9" ry="6" fill="none" stroke="#555" stroke-width="1.3" transform="rotate(-20 640 1455)"/>
<path d="M632,1459 l6,-9 l5,7 l4,-6" fill="none" stroke="#333" stroke-width="1.3"/>
</g>
<g class="ar">
<line x1="1636.4" y1="292.9" x2="1315.0" y2="186.0" stroke="#000" stroke-width="5.0"/>
<polygon points="1304.0,182.3 1321.1,176.9 1314.4,196.8" fill="#000"/>
<line x1="1210.5" y1="835.6" x2="1295.3" y2="642.6" stroke="#000" stroke-width="5.0"/>
<polygon points="1300.0,632.0 1303.8,649.5 1284.6,641.0" fill="#000"/>
<line x1="1031.0" y1="1118.7" x2="1139.9" y2="1101.1" stroke="#000" stroke-width="5.0"/>
<polygon points="1151.4,1099.2 1138.8,1111.9 1135.4,1091.2" fill="#000"/>
<line x1="880.0" y1="1211.0" x2="861.5" y2="1152.1" stroke="#000" stroke-width="5.0"/>
<polygon points="858.0,1141.0 872.4,1151.7 852.3,1158.0" fill="#000"/>
<line x1="921.0" y1="1413.0" x2="795.6" y2="1368.3" stroke="#000" stroke-width="5.0"/>
<polygon points="784.7,1364.4 801.9,1359.4 794.8,1379.2" fill="#000"/>
<line x1="1006.2" y1="1331.6" x2="1060.4" y2="1295.3" stroke="#000" stroke-width="5.0"/>
<polygon points="1070.0,1288.8 1063.8,1305.6 1052.1,1288.2" fill="#000"/>
<line x1="1163.3" y1="1390.4" x2="985.1" y2="1278.9" stroke="#000" stroke-width="5.0"/>
<polygon points="975.3,1272.7 993.2,1271.5 982.0,1289.3" fill="#000"/>
<line x1="1171.2" y1="1443.0" x2="1129.2" y2="1321.0" stroke="#000" stroke-width="5.0"/>
<polygon points="1125.4,1310.0 1140.0,1320.3 1120.2,1327.1" fill="#000"/>
<line x1="1226.2" y1="1319.2" x2="1241.7" y2="1260.9" stroke="#000" stroke-width="5.0"/>
<polygon points="1244.7,1249.7 1251.1,1266.4 1230.8,1261.0" fill="#000"/>
<line x1="1219.4" y1="1411.4" x2="1292.6" y2="1346.0" stroke="#000" stroke-width="5.0"/>
<polygon points="1301.2,1338.3 1297.4,1355.8 1283.4,1340.1" fill="#000"/>
<line x1="1260.7" y1="1473.7" x2="1312.7" y2="1344.3" stroke="#000" stroke-width="5.0"/>
<polygon points="1317.0,1333.5 1321.3,1350.9 1301.9,1343.0" fill="#000"/>
<line x1="1273.5" y1="1407.0" x2="1429.8" y2="1323.8" stroke="#000" stroke-width="5.0"/>
<polygon points="1440.0,1318.4 1432.1,1334.5 1422.3,1315.9" fill="#000"/>
<line x1="1428.3" y1="1390.5" x2="1375.7" y2="1372.7" stroke="#000" stroke-width="5.0"/>
<polygon points="1364.7,1369.0 1381.8,1363.7 1375.1,1383.6" fill="#000"/>
<line x1="1509.8" y1="1482.0" x2="1598.2" y2="1420.6" stroke="#000" stroke-width="5.0"/>
<polygon points="1607.7,1414.0 1601.8,1430.9 1589.8,1413.6" fill="#000"/>
<line x1="1151.6" y1="1598.3" x2="1307.8" y2="1498.0" stroke="#000" stroke-width="5.0"/>
<polygon points="1317.6,1491.7 1311.1,1508.4 1299.7,1490.7" fill="#000"/>
<line x1="981.7" y1="1462.0" x2="981.7" y2="1419.2" stroke="#000" stroke-width="5.0"/>
<polygon points="981.7,1407.6 992.2,1422.1 971.2,1422.1" fill="#000"/>
<line x1="1004.7" y1="1450.5" x2="948.6" y2="1419.9" stroke="#000" stroke-width="5.0"/>
<polygon points="938.4,1414.4 956.2,1412.1 946.1,1430.6" fill="#000"/>
<line x1="883.0" y1="1801.8" x2="854.3" y2="1801.8" stroke="#000" stroke-width="5.0"/>
<polygon points="842.7,1801.8 857.2,1791.3 857.2,1812.3" fill="#000"/>
</g>
<g class="lb">
<text transform="translate(1218.95,252.90) scale(0.9466,1)" font-size="42.44" font-weight="700">G19</text>
<text transform="translate(1325.36,646.40) scale(0.9222,1)" font-size="42.44" font-weight="700">T18</text>
<text transform="translate(1082.58,998.40) scale(0.8878,1)" font-size="42.44" font-weight="700">T5</text>
<text transform="translate(969.22,1078.10) scale(0.9798,1)" font-size="42.44" font-weight="700">N16</text>
<text transform="translate(738.86,1180.40) scale(0.9427,1)" font-size="42.44" font-weight="700">Q8</text>
<text transform="translate(914.99,1230.00) scale(0.9533,1)" font-size="42.44" font-weight="700">D24</text>
<text transform="translate(1009.30,1249.40) scale(0.9493,1)" font-size="42.44" font-weight="700">D14</text>
<text transform="translate(1117.82,1274.20) scale(1.0489,1)" font-size="42.44" font-weight="700">M20</text>
<text transform="translate(1240.45,1229.40) scale(1.0725,1)" font-size="42.44" font-weight="700">M9</text>
<text transform="translate(1321.53,1263.40) scale(0.8727,1)" font-size="42.44" font-weight="700">S28,Y27</text>
<text transform="translate(1480.44,1280.60) scale(0.9031,1)" font-size="42.44" font-weight="700">F17</text>
<text transform="translate(1570.66,1364.40) scale(0.9955,1)" font-size="42.44" font-weight="700">W10</text>
<text transform="translate(724.27,1331.00) scale(0.8923,1)" font-size="42.44" font-weight="700">E25</text>
<text transform="translate(599.25,1416.00) scale(0.9703,1)" font-size="42.44" font-weight="700">N3</text>
<text transform="translate(979.59,1391.80) scale(0.9539,1)" font-size="42.44" font-weight="700">D13</text>
<text transform="translate(1074.15,1391.80) scale(0.9341,1)" font-size="42.44" font-weight="700">I4</text>
<text transform="translate(846.06,1455.20) scale(0.9648,1)" font-size="42.44" font-weight="700">D26</text>
<text transform="translate(1343.95,1416.10) scale(0.8966,1)" font-size="42.44" font-weight="700">F12</text>
<text transform="translate(1328.91,1470.60) scale(0.8768,1)" font-size="42.44" font-weight="700">L15</text>
<text transform="translate(1112.94,1513.90) scale(0.9358,1)" font-size="42.44" font-weight="700">D11</text>
<text transform="translate(1131.71,1734.90) scale(0.9843,1)" font-size="42.44" font-weight="700">D6</text>
<text transform="translate(818.60,1779.70) scale(0.9486,1)" font-size="42.44" font-weight="700">A23</text>
</g>
<g class="tk">
<text transform="translate(476.00,411.70) scale(1.0000,1.0407)" font-size="75" font-weight="700" text-anchor="end">111</text>
<text transform="translate(476.00,836.30) scale(1.0000,1.0407)" font-size="75" font-weight="700" text-anchor="end">115</text>
<text transform="translate(476.00,1260.90) scale(1.0000,1.0407)" font-size="75" font-weight="700" text-anchor="end">119</text>
<text transform="translate(476.00,1685.50) scale(1.0000,1.0407)" font-size="75" font-weight="700" text-anchor="end">123</text>
<text transform="translate(629.70,2006.20) scale(0.9800,1.0407)" font-size="75" font-weight="700" text-anchor="middle">8.6</text>
<text transform="translate(848.30,2006.20) scale(0.9800,1.0407)" font-size="75" font-weight="700" text-anchor="middle">8.4</text>
<text transform="translate(1066.90,2006.20) scale(0.9800,1.0407)" font-size="75" font-weight="700" text-anchor="middle">8.2</text>
<text transform="translate(1285.50,2006.20) scale(0.9800,1.0407)" font-size="75" font-weight="700" text-anchor="middle">8.0</text>
<text transform="translate(1504.10,2006.20) scale(0.9800,1.0407)" font-size="75" font-weight="700" text-anchor="middle">7.8</text>
</g>
<text transform="translate(961,2113) scale(0.985,1.02)" font-size="75" font-weight="700"><tspan font-size="50" dy="-23">1</tspan><tspan dy="23" dx="3.7">H (ppm)</tspan></text>
<text transform="translate(283,0) rotate(-90) translate(-1182.6,0) scale(1,1.02)" font-size="75" font-weight="700"><tspan font-size="50" dy="-22">15</tspan><tspan dy="22" dx="0.2" textLength="60.9" lengthAdjust="spacingAndGlyphs">N</tspan><tspan dx="-8.6"> (ppm)</tspan></text>
<text transform="translate(233.80,76.90) scale(1.0000,1.0407)" font-size="85.5" font-weight="400" text-anchor="start">A</text>
</g>
<g class="pb">
<g stroke="#000" stroke-width="4.7" fill="none">
<path d="M255.2,2315.3 H2030.3 V2995.5 M278.8,2312.9500000000003 V2995.5 M255.2,2971.7 H2032.6499999999999"/>
<line x1="255.2" y1="2534.1" x2="278.8" y2="2534.1"/>
<line x1="255.2" y1="2752.9" x2="278.8" y2="2752.9"/>
<line x1="570.7" y1="2971.7" x2="570.7" y2="2995.5"/>
<line x1="862.6" y1="2971.7" x2="862.6" y2="2995.5"/>
<line x1="1154.5" y1="2971.7" x2="1154.5" y2="2995.5"/>
<line x1="1446.5" y1="2971.7" x2="1446.5" y2="2995.5"/>
<line x1="1738.4" y1="2971.7" x2="1738.4" y2="2995.5"/>
</g>
<g fill="#000">
<path d="M437.1,2971.7 V2944.6 q0,-1.6 1.6,-1.6 H469.2 q1.6,0 1.6,1.6 V2971.7 Z"/>
<path d="M495.4,2971.7 V2942.6 q0,-1.6 1.6,-1.6 H527.6 q1.6,0 1.6,1.6 V2971.7 Z"/>
<path d="M553.8,2971.7 V2921.6 q0,-1.6 1.6,-1.6 H586.0 q1.6,0 1.6,1.6 V2971.7 Z"/>
<path d="M612.2,2971.7 V2962.1 q0,-1.6 1.6,-1.6 H644.4 q1.6,0 1.6,1.6 V2971.7 Z"/>
<path d="M729.0,2971.7 V2869.8 q0,-1.6 1.6,-1.6 H761.2 q1.6,0 1.6,1.6 V2971.7 Z"/>
<path d="M787.4,2971.7 V2858.5 q0,-1.6 1.6,-1.6 H819.5 q1.6,0 1.6,1.6 V2971.7 Z"/>
<path d="M845.7,2971.7 V2795.0 q0,-1.6 1.6,-1.6 H877.9 q1.6,0 1.6,1.6 V2971.7 Z"/>
<path d="M904.1,2971.7 V2920.6 q0,-1.6 1.6,-1.6 H936.3 q1.6,0 1.6,1.6 V2971.7 Z"/>
<path d="M962.5,2971.7 V2880.1 q0,-1.6 1.6,-1.6 H994.7 q1.6,0 1.6,1.6 V2971.7 Z"/>
<path d="M1020.9,2971.7 V2836.0 q0,-1.6 1.6,-1.6 H1053.1 q1.6,0 1.6,1.6 V2971.7 Z"/>
<path d="M1079.3,2971.7 V2882.8 q0,-1.6 1.6,-1.6 H1111.5 q1.6,0 1.6,1.6 V2971.7 Z"/>
<path d="M1137.6,2971.7 V2663.4 q0,-1.6 1.6,-1.6 H1169.9 q1.6,0 1.6,1.6 V2971.7 Z"/>
<path d="M1196.0,2971.7 V2772.1 q0,-1.6 1.6,-1.6 H1228.2 q1.6,0 1.6,1.6 V2971.7 Z"/>
<path d="M1254.4,2971.7 V2633.4 q0,-1.6 1.6,-1.6 H1286.6 q1.6,0 1.6,1.6 V2971.7 Z"/>
<path d="M1312.8,2971.7 V2415.2 q0,-1.6 1.6,-1.6 H1345.0 q1.6,0 1.6,1.6 V2971.7 Z"/>
<path d="M1371.2,2971.7 V2471.6 q0,-1.6 1.6,-1.6 H1403.4 q1.6,0 1.6,1.6 V2971.7 Z"/>
<path d="M1429.6,2971.7 V2667.6 q0,-1.6 1.6,-1.6 H1461.8 q1.6,0 1.6,1.6 V2971.7 Z"/>
<path d="M1604.7,2971.7 V2914.6 q0,-1.6 1.6,-1.6 H1636.9 q1.6,0 1.6,1.6 V2971.7 Z"/>
<path d="M1663.1,2971.7 V2592.6 q0,-1.6 1.6,-1.6 H1695.3 q1.6,0 1.6,1.6 V2971.7 Z"/>
<path d="M1721.5,2971.7 V2742.6 q0,-1.6 1.6,-1.6 H1753.7 q1.6,0 1.6,1.6 V2971.7 Z"/>
<path d="M1779.9,2971.7 V2847.6 q0,-1.6 1.6,-1.6 H1812.1 q1.6,0 1.6,1.6 V2971.7 Z"/>
<path d="M1838.2,2971.7 V2546.6 q0,-1.6 1.6,-1.6 H1870.5 q1.6,0 1.6,1.6 V2971.7 Z"/>
<path d="M1896.6,2971.7 V2655.2 q0,-1.6 1.6,-1.6 H1928.8 q1.6,0 1.6,1.6 V2971.7 Z"/>
</g>
<text transform="translate(227.70,2336.30) scale(1.0000,1.0407)" font-size="61.3" font-weight="400" text-anchor="end">0.6</text>
<text transform="translate(227.70,2555.10) scale(1.0000,1.0407)" font-size="61.3" font-weight="400" text-anchor="end">0.4</text>
<text transform="translate(227.70,2773.90) scale(1.0000,1.0407)" font-size="61.3" font-weight="400" text-anchor="end">0.2</text>
<text transform="translate(227.70,2992.70) scale(1.0000,1.0407)" font-size="61.3" font-weight="400" text-anchor="end">0.0</text>
<text transform="translate(278.80,3077.20) scale(1.0000,1.0407)" font-size="61.3" font-weight="400" text-anchor="middle">0</text>
<text transform="translate(570.72,3077.20) scale(1.0000,1.0407)" font-size="61.3" font-weight="400" text-anchor="middle">5</text>
<text transform="translate(862.63,3077.20) scale(1.0000,1.0407)" font-size="61.3" font-weight="400" text-anchor="middle">10</text>
<text transform="translate(1154.55,3077.20) scale(1.0000,1.0407)" font-size="61.3" font-weight="400" text-anchor="middle">15</text>
<text transform="translate(1446.47,3077.20) scale(1.0000,1.0407)" font-size="61.3" font-weight="400" text-anchor="middle">20</text>
<text transform="translate(1738.38,3077.20) scale(1.0000,1.0407)" font-size="61.3" font-weight="400" text-anchor="middle">25</text>
<text transform="translate(2030.30,3077.20) scale(1.0000,1.0407)" font-size="61.3" font-weight="400" text-anchor="middle">30</text>
<text transform="translate(880.67,3211.60) scale(1.0000,1.0120)" font-size="73.5" font-weight="400" text-anchor="start">Residue Number</text>
<text transform="translate(74,0) rotate(-90) translate(-2789.4,0)" font-size="73.5" font-weight="400"><tspan font-size="72.85" style="font-family:'Liberation Serif',serif">Δ</tspan><tspan font-size="72.85" dx="-2.6" style="font-family:'Liberation Serif',serif">δ</tspan><tspan> (ppm)</tspan></text>
<text transform="translate(26.31,2207.50) scale(1.0000,1.0407)" font-size="85.5" font-weight="400" text-anchor="start">B</text>
</g>
</svg>
</body></html>
